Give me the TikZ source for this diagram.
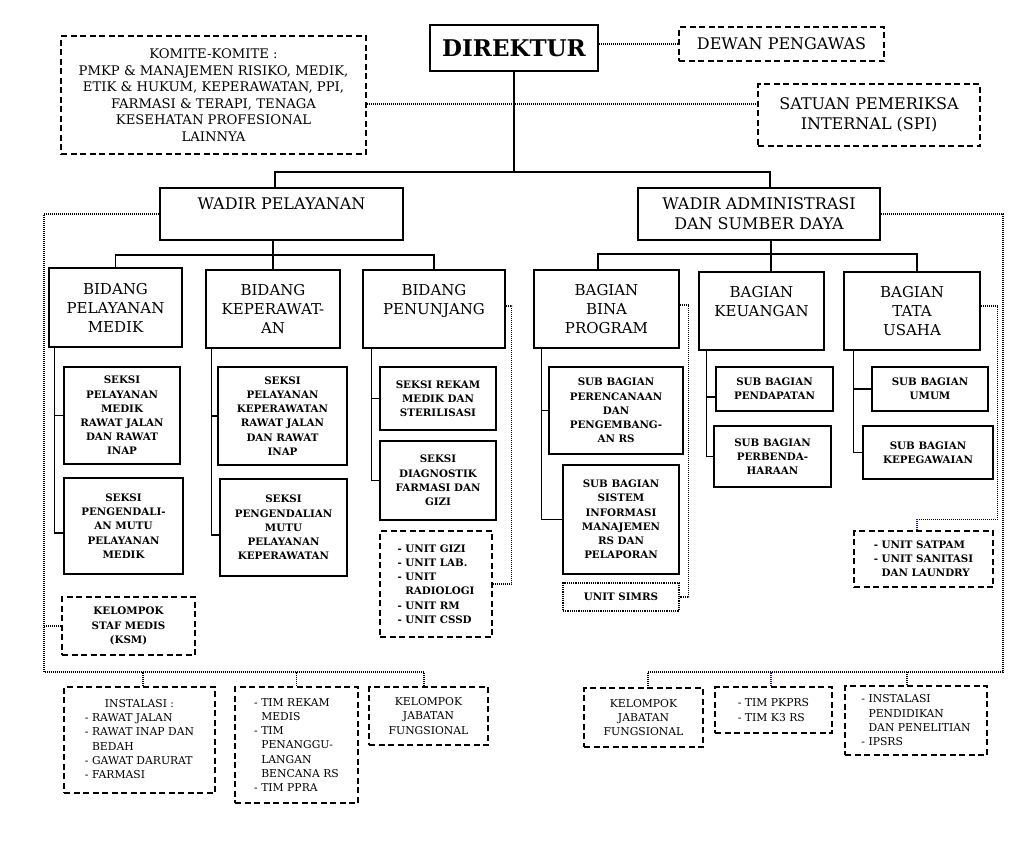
\documentclass[tikz,border=0pt]{standalone}
\usepackage{fontspec}
\setmainfont{DejaVu Serif}
\definecolor{linkblue}{RGB}{30,30,150}
\begin{document}
\begin{tikzpicture}[x=1pt,y=-1pt,line join=miter,
		sz/.style 2 args={minimum width=#1pt,minimum height=#2pt},
		solidbox/.style={draw,line width=1.5pt,align=center,inner sep=0pt},
		dashbox/.style={draw,line width=1.5pt,dash pattern=on 6pt off 3.5pt,align=center,inner sep=0pt},
		dotbox/.style={draw,line width=1.3pt,dash pattern=on 1.2pt off 1pt,align=center,inner sep=0pt},
		conn/.style={line width=1.5pt},
		dotline/.style={line width=1.2pt,dash pattern=on 1.2pt off 0.8pt},
		fdir/.style={font=\fontsize{23}{26}\selectfont\bfseries},
		fwad/.style={font=\fontsize{16}{20}\selectfont},
		fbid/.style={font=\fontsize{15}{19}\selectfont},
		fkom/.style={font=\fontsize{13.2}{16.5}\selectfont},
		fsek/.style={font=\fontsize{10.3}{14.2}\selectfont\bfseries},
		fbot/.style={font=\fontsize{10.8}{14.3}\selectfont}]
	\useasboundingbox (0,0) rectangle (1024,863);
	\fill[white] (0,0) rectangle (1024,863);
	% top level
	\node[solidbox,fdir,sz={168}{46}] (dir) at (514,48) {DIREKTUR};
	\node[dashbox,fwad,sz={205}{34}] (dewan) at (781.5,44) {DEWAN PENGAWAS};
	\node[dashbox,fkom,sz={305}{118}] (komite) at (213.5,95) {KOMITE-KOMITE :\\PMKP \& MANAJEMEN RISIKO, MEDIK,\\ETIK \& HUKUM, KEPERAWATAN, PPI,\\FARMASI \& TERAPI, TENAGA\\KESEHATAN PROFESIONAL\\LAINNYA};
	\node[dashbox,fwad,sz={222}{62}] (spi) at (869,115) {SATUAN PEMERIKSA\\INTERNAL (SPI)};
	\node[solidbox,fwad,sz={243}{52}] (wpel) at (281.5,214) {WADIR PELAYANAN\\\mbox{}};
	\node[solidbox,fwad,sz={242}{52}] (wadm) at (759,214) {WADIR ADMINISTRASI\\DAN SUMBER DAYA};
	% bidang / bagian
	\node[solidbox,fbid,sz={133}{79}] (bpm) at (115.5,307.5) {BIDANG\\PELAYANAN\\MEDIK};
	\node[solidbox,fbid,sz={134}{78}] (bkp) at (273,309) {BIDANG\\KEPERAWAT-\\AN};
	\node[solidbox,fbid,sz={142}{78}] (bpn) at (434,309) {BIDANG\\PENUNJANG\\\mbox{}};
	\node[solidbox,fbid,sz={145}{78}] (bbp) at (606.5,309) {BAGIAN\\BINA\\PROGRAM};
	\node[solidbox,fbid,sz={125}{78}] (bku) at (761.5,311) {BAGIAN\\KEUANGAN\\\mbox{}};
	\node[solidbox,fbid,sz={136}{78}] (btu) at (912,311) {BAGIAN\\TATA\\USAHA};
	% seksi
	\node[solidbox,fsek,sz={116}{97}] (s11) at (122,415.5) {SEKSI\\PELAYANAN\\MEDIK\\RAWAT JALAN\\DAN RAWAT\\INAP};
	\node[solidbox,fsek,sz={119}{96}] (s12) at (123.5,526) {SEKSI\\PENGENDALI-\\AN MUTU\\PELAYANAN\\MEDIK};
	\node[solidbox,fsek,sz={129}{98}] (s21) at (282.5,416) {SEKSI\\PELAYANAN\\KEPERAWATAN\\RAWAT JALAN\\DAN RAWAT\\INAP};
	\node[solidbox,fsek,sz={127}{97}] (s22) at (283.5,527.5) {SEKSI\\PENGENDALIAN\\MUTU\\PELAYANAN\\KEPERAWATAN};
	\node[solidbox,fsek,sz={116}{63}] (s31) at (438,398.5) {SEKSI REKAM\\MEDIK DAN\\STERILISASI};
	\node[solidbox,fsek,sz={116}{79}] (s32) at (438,480.5) {SEKSI\\DIAGNOSTIK\\FARMASI DAN\\GIZI};
	\node[dashbox,fsek,sz={112}{106},align=left] (u3) at (436,584) {- UNIT GIZI\\- UNIT LAB.\\- UNIT\\\phantom{- }RADIOLOGI\\- UNIT RM\\- UNIT CSSD};
	\node[dashbox,fsek,sz={133}{58}] (ksm) at (128.5,626) {KELOMPOK\\STAF MEDIS\\(KSM)};
	% sub bagian
	\node[solidbox,fsek,sz={134}{87}] (s41) at (616,410.5) {SUB BAGIAN\\PERENCANAAN\\DAN\\PENGEMBANG-\\AN RS};
	\node[solidbox,fsek,sz={116}{109}] (s42) at (621,519.5) {SUB BAGIAN\\SISTEM\\INFORMASI\\MANAJEMEN\\RS DAN\\PELAPORAN};
	\node[dotbox,fsek,sz={116}{28}] (simrs) at (621,597) {UNIT SIMRS};
	\node[solidbox,fsek,sz={117}{44}] (s51) at (774.5,389) {SUB BAGIAN\\PENDAPATAN};
	\node[solidbox,fsek,sz={117}{61}] (s52) at (772.5,456.5) {SUB BAGIAN\\PERBENDA-\\HARAAN};
	\node[solidbox,fsek,sz={116}{44}] (s61) at (930,389) {SUB BAGIAN\\UMUM};
	\node[solidbox,fsek,sz={130}{53}] (s62) at (928,452.5) {SUB BAGIAN\\KEPEGAWAIAN};
	\node[dashbox,fsek,sz={139}{56},align=left] (u6) at (923.5,559) {- UNIT SATPAM\\- UNIT SANITASI\\\phantom{- }DAN LAUNDRY};
	% bottom row
	\node[dashbox,fbot,sz={151}{106}] (inst) at (139.5,740) {\begin{tabular}{@{}l@{}}\multicolumn{1}{@{}c@{}}{INSTALASI :}\\- RAWAT JALAN\\- RAWAT INAP DAN\\\phantom{- }BEDAH\\- GAWAT DARURAT\\- FARMASI\end{tabular}};
	\node[dashbox,fbot,sz={123}{116},align=left] (tim) at (296.5,745) {- TIM REKAM\\\phantom{- }MEDIS\\- TIM\\\phantom{- }PENANGGU-\\\phantom{- }LANGAN\\\phantom{- }BENCANA RS\\- TIM PPRA};
	\node[dashbox,fbot,sz={119}{58}] (kjf1) at (428.5,716) {KELOMPOK\\JABATAN\\FUNGSIONAL};
	\node[dashbox,fbot,sz={119}{59}] (kjf2) at (643.5,717.5) {KELOMPOK\\JABATAN\\FUNGSIONAL};
	\node[dashbox,fbot,sz={117}{46},align=left] (tpk) at (773.5,710) {- TIM PKPRS\\- TIM K3 RS};
	\node[dashbox,fbot,sz={142}{69},align=left] (ipd) at (916,720.5) {- INSTALASI\\\phantom{- }PENDIDIKAN\\\phantom{- }DAN PENELITIAN\\- IPSRS};
	% solid connectors
	\coordinate (jl) at (273,255);
	\coordinate (jr) at (771,254);
	\draw[conn] (dir.south) -- ++(0,100) coordinate (jd);
	\draw[conn] ([xshift=-6.5pt]wpel.north) |- (jd) -| ([xshift=11pt]wadm.north);
	\draw[conn] (wpel.south -| jl) -- (bkp.north);
	\draw[conn] (bpm.north) |- (jl) -| (bpn.north);
	\draw[conn] (wadm.south -| jr) -- (jr |- bku.north);
	\draw[conn] ([xshift=-8.5pt]bbp.north) |- (jr) -| ([xshift=5pt]btu.north);
	\draw[conn] ([xshift=6pt]bpm.south west) |- ([yshift=-7pt]s12.west);
	\draw[conn] (s11.west) -- ++(-9,0);
	\draw[conn] ([xshift=6pt]bkp.south west) |- ([yshift=-7.5pt]s22.west);
	\draw[conn] (s21.west) -- ++(-6,0);
	\draw[conn] ([xshift=9pt]bpn.south west) |- (s32.west);
	\draw[conn] (s31.west) -- ++(-8,0);
	\draw[conn] ([xshift=8pt]bbp.south west) |- (s42.west);
	\draw[conn] (s41.west) -- ++(-7,0);
	\draw[conn] ([xshift=8pt]bku.south west) |- (s52.west);
	\draw[conn] ([yshift=-8pt]s51.west) -- ++(-9,0);
	\draw[conn] ([xshift=10pt]btu.south west) |- (s62.west);
	\draw[conn] (s61.west) -- ++(-18,0);
	% dotted connectors
	\coordinate (bl) at (44,672);
	\coordinate (br) at (1003,672);
	\draw[dotline] (dewan.west) -- (dewan.west -| dir.east);
	\draw[dotline] ([yshift=-9pt]komite.east) -- ([yshift=-9pt]komite.east -| spi.west);
	\draw[dotline] (wpel.west) -| (bl) -| ([xshift=-4.5pt]kjf1.north);
	\draw[dotline] ([xshift=3.5pt]inst.north) -- ([xshift=3.5pt]inst.north |- bl);
	\draw[dotline] (tim.north) -- (tim.north |- bl);
	\draw[dotline] (ksm.west) -- (ksm.west -| bl);
	\draw[dotline] (wadm.east) -| (br) -| ([xshift=4.5pt]kjf2.north);
	\draw[dotline,linkblue] ([xshift=-2.5pt]tpk.north) -- ([xshift=-2.5pt]tpk.north |- br);
	\draw[dotline] ([xshift=-9pt]ipd.north) -- ([xshift=-9pt]ipd.north |- br);
	\draw[dotline] ([yshift=3pt]bpn.east) -- ++(6,0) |- (u3.east);
	\draw[dotline] ([yshift=4pt]bbp.east) -- ++(9,0) |- (simrs.east);
	\draw[dotline] ([yshift=5pt]btu.east) -- ++(17,0) |- ([xshift=-6.5pt,yshift=11pt]u6.north);
	\draw[dotline,linkblue] ([xshift=-6.5pt]u6.north) -- ++(0,-11);
\end{tikzpicture}
\end{document}
